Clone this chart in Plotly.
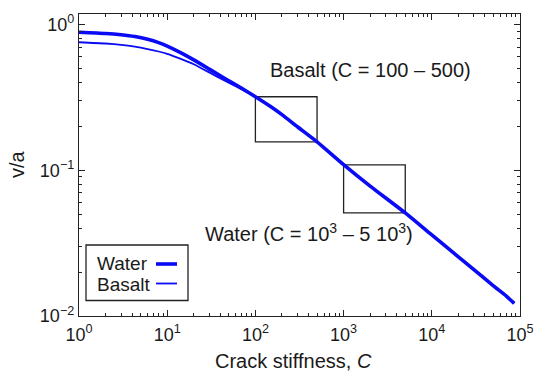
import plotly.graph_objects as go

# ---- data ----
C_water = [1, 2, 3, 4.3, 6, 8, 10, 14, 20, 30, 45, 70, 100, 150, 200, 300, 500,
           1000, 2000, 5000, 10000, 20000, 30000, 50000, 70000, 86000]
v_water = [0.887, 0.87, 0.852, 0.828, 0.793, 0.752, 0.712, 0.645, 0.573, 0.495, 0.427, 0.365, 0.32,
           0.273, 0.241, 0.199, 0.157, 0.1095, 0.078, 0.051, 0.036, 0.0255, 0.0208, 0.0161, 0.0137, 0.0122]

C_basalt = [1, 2, 3, 4.3, 6, 8, 10, 14, 20, 30, 45, 70, 100, 150, 200, 300, 500,
            1000, 2000, 5000, 10000, 20000, 30000, 50000, 70000, 86000]
v_basalt = [0.757, 0.742, 0.727, 0.706, 0.68, 0.654, 0.63, 0.585, 0.535, 0.47, 0.412, 0.36, 0.32,
            0.273, 0.241, 0.199, 0.157, 0.1095, 0.078, 0.051, 0.036, 0.0255, 0.0208, 0.0161, 0.0137, 0.0122]

basalt_box_C = [100, 500]
basalt_box_v = [0.157, 0.32]
water_box_C = [1000, 5000]
water_box_v = [0.0511, 0.109]

x_tick_vals = [1, 10, 100, 1000, 10000, 100000]
x_tick_text = ["10<sup>0</sup>", "10<sup>1</sup>", "10<sup>2</sup>", "10<sup>3</sup>",
               "10<sup>4</sup>", "10<sup>5</sup>"]
y_tick_vals = [0.01, 0.1, 1]
y_tick_text = ["10<sup>\u22122</sup>", "10<sup>\u22121</sup>", "10<sup>0</sup>"]

BLUE = "#0a0af5"
FONT = "Liberation Sans, Arial, Helvetica, sans-serif"

fig = go.Figure()


def box_trace(cs, vs):
    xs = [cs[0], cs[1], cs[1], cs[0], cs[0]]
    ys = [vs[1], vs[1], vs[0], vs[0], vs[1]]
    return go.Scatter(x=xs, y=ys, mode="lines", line=dict(color="#222222", width=1.3),
                      showlegend=False, hoverinfo="skip")


fig.add_trace(box_trace(basalt_box_C, basalt_box_v))
fig.add_trace(box_trace(water_box_C, water_box_v))
fig.add_trace(go.Scatter(x=C_basalt, y=v_basalt, mode="lines", name="Basalt",
                         line=dict(color=BLUE, width=1.8, shape="spline", smoothing=0.6),
                         showlegend=False))
fig.add_trace(go.Scatter(x=C_water, y=v_water, mode="lines", name="Water",
                         line=dict(color=BLUE, width=3.6, shape="spline", smoothing=0.6),
                         showlegend=False))

minor_x = [m * 10 ** k for k in range(0, 5) for m in range(2, 10)]
minor_y = [m * 10 ** k for k in range(-2, 0) for m in range(2, 10)]

L, R, T, B = 79, 16, 14, 56
W, H = 536, 372
pw, ph = W - L - R, H - T - B


def px(x):
    return (x - L) / pw


def py(y):
    return (H - B - y) / ph


axis_common = dict(
    type="log", ticks="inside", ticklen=6, tickwidth=1, tickcolor="#222",
    showline=True, linecolor="#222", linewidth=1.3, mirror="allticks",
    showgrid=False, zeroline=False, automargin=False, tickfont=dict(size=18),
)

fig.update_layout(
    width=W, height=H,
    margin=dict(l=L, r=R, t=T, b=B, autoexpand=False),
    paper_bgcolor="white", plot_bgcolor="white",
    font=dict(family=FONT, size=18, color="#1a1a1a"),
    xaxis=dict(range=[0, 5], tickvals=x_tick_vals, ticktext=x_tick_text, ticklabelstandoff=2,
               minor=dict(tickvals=minor_x, ticks="inside", ticklen=3, tickcolor="#222", showgrid=False),
               **axis_common),
    yaxis=dict(range=[-2, 0.073], tickvals=y_tick_vals, ticktext=y_tick_text,
               minor=dict(tickvals=minor_y, ticks="inside", ticklen=3, tickcolor="#222", showgrid=False),
               **axis_common),
    showlegend=False,
)

ann = []
ann.append(dict(text="Basalt (C = 100 \u2013 500)", xref="paper", yref="paper",
                x=px(268), y=py(70), xanchor="left", yanchor="middle", showarrow=False,
                font=dict(size=20)))
ann.append(dict(text="Water (C = 10<sup>3</sup> \u2013 5 10<sup>3</sup>)", xref="paper", yref="paper",
                x=px(203), y=py(232), xanchor="left", yanchor="middle", showarrow=False,
                font=dict(size=20)))
ann.append(dict(text="Crack stiffness, <i>C</i>", xref="paper", yref="paper",
                x=px(293), y=py(361), xanchor="center", yanchor="middle", showarrow=False,
                font=dict(size=20)))
ann.append(dict(text="v/a", xref="paper", yref="paper", textangle=-90,
                x=px(17), y=py(164), xanchor="center", yanchor="middle", showarrow=False,
                font=dict(size=20)))
# legend (manual, text left of sample line)
ann.append(dict(text="Water", xref="paper", yref="paper", x=px(95), y=py(263),
                xanchor="left", yanchor="middle", showarrow=False, font=dict(size=19)))
ann.append(dict(text="Basalt", xref="paper", yref="paper", x=px(95), y=py(284),
                xanchor="left", yanchor="middle", showarrow=False, font=dict(size=19)))
fig.update_layout(annotations=ann)

shapes = [
    dict(type="rect", xref="paper", yref="paper", x0=px(86), x1=px(188), y0=py(245), y1=py(300.5),
         line=dict(color="#222", width=1.3), fillcolor="white", layer="above"),
    dict(type="line", xref="paper", yref="paper", x0=px(156), x1=px(177), y0=py(264), y1=py(264),
         line=dict(color=BLUE, width=3.6)),
    dict(type="line", xref="paper", yref="paper", x0=px(156), x1=px(177), y0=py(283.5), y1=py(283.5),
         line=dict(color=BLUE, width=1.8)),
]
fig.update_layout(shapes=shapes)

fig.write_html("out.html")
